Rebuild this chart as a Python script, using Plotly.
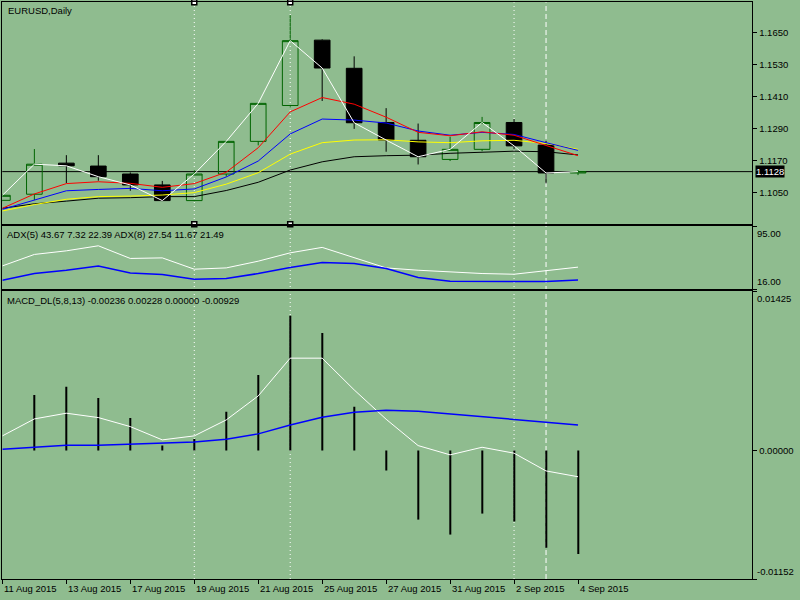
import plotly.graph_objects as go

# EURUSD daily bars
dates = ["11 Aug", "12 Aug", "13 Aug", "14 Aug", "17 Aug", "18 Aug", "19 Aug",
         "20 Aug", "21 Aug", "24 Aug", "25 Aug", "26 Aug", "27 Aug", "28 Aug",
         "31 Aug", "1 Sep", "2 Sep", "3 Sep", "4 Sep"]
opens = [1.1020, 1.1043, 1.1160, 1.1149, 1.1119, 1.1078, 1.1019, 1.1119, 1.1242, 1.1377,
         1.1623, 1.1517, 1.1313, 1.1246, 1.1174, 1.1212, 1.1313, 1.1228, 1.1123]
highs = [1.1042, 1.1213, 1.1190, 1.1190, 1.1125, 1.1093, 1.1134, 1.1242, 1.1385, 1.1717,
         1.1626, 1.1562, 1.1367, 1.1309, 1.1259, 1.1334, 1.1326, 1.1244, 1.1134]
lows = [1.1017, 1.1021, 1.1085, 1.1094, 1.1056, 1.1017, 1.1017, 1.1109, 1.1227, 1.1370,
        1.1394, 1.1289, 1.1203, 1.1155, 1.1168, 1.1205, 1.1213, 1.1084, 1.1115]
closes = [1.1039, 1.1156, 1.1150, 1.1109, 1.1078, 1.1019, 1.1119, 1.1242, 1.1385, 1.1621,
          1.1518, 1.1312, 1.1247, 1.1184, 1.1212, 1.1313, 1.1225, 1.1123, 1.1128]

# moving averages
ma_red = [1.0990, 1.1044, 1.1083, 1.1090, 1.1084, 1.1069, 1.1083, 1.1126, 1.1218, 1.1353,
          1.1407, 1.1382, 1.1333, 1.1276, 1.1263, 1.1278, 1.1265, 1.1228, 1.1188]
ma_blue = [1.0986, 1.1020, 1.1056, 1.1061, 1.1065, 1.1056, 1.1063, 1.1108, 1.1168, 1.1270,
           1.1326, 1.1322, 1.1311, 1.1281, 1.1265, 1.1276, 1.1268, 1.1237, 1.1208]
ma_yellow = [1.0980, 1.1004, 1.1024, 1.1034, 1.1036, 1.1040, 1.1049, 1.1081, 1.1124, 1.1194,
             1.1237, 1.1247, 1.1248, 1.1240, 1.1237, 1.1244, 1.1246, 1.1234, 1.1212]
ma_black = [1.0990, 1.1007, 1.1017, 1.1028, 1.1030, 1.1034, 1.1034, 1.1057, 1.1088, 1.1134,
            1.1165, 1.1184, 1.1188, 1.1190, 1.1197, 1.1200, 1.1205, 1.1203, 1.1191]

# ADX
adx5 = [45.2, 59.5, 64.0, 70.3, 54.5, 55.2, 41.1, 42.7, 51.1, 61.5,
        68.3, 55.2, 42.7, 39.8, 37.7, 35.7, 34.8, 38.9, 43.67]
adx8 = [27.3, 35.7, 39.8, 45.2, 36.4, 34.4, 28.5, 29.4, 35.7, 43.2,
        49.5, 48.2, 42.0, 30.7, 26.0, 25.6, 25.6, 25.6, 27.54]

# MACD_DL (first histogram bar hidden behind the frame)
macd_hist = [None, 0.00497, 0.00569, 0.0047, 0.00291, 0.00043, 0.00103, 0.00345, 0.00676, 0.01205,
             0.01052, 0.0039, -0.00181, -0.0062, -0.00754, -0.00566, -0.00638, -0.00871, -0.00929]
macd_main = [0.0013, 0.00282, 0.00333, 0.00294, 0.00213, 0.00094, 0.0013, 0.00273, 0.00488, 0.00826,
             0.00826, 0.00542, 0.00279, 0.00043, -0.0004, 0.00028, -0.00025, -0.00184, -0.00236]
macd_signal = [0.0001, 0.00028, 0.00046, 0.00046, 0.00055, 0.00064, 0.00076, 0.001, 0.00148, 0.00228,
               0.00297, 0.00342, 0.0036, 0.00351, 0.00327, 0.00306, 0.00282, 0.00253, 0.00228]

price_ticks = [1.1050, 1.1170, 1.1290, 1.1410, 1.1530, 1.1650]
price_range = [1.09298, 1.17654]
adx_range = [16.0, 95.0]
macd_range = [-0.01152, 0.01425]

label_dates = ["11 Aug", "13 Aug", "17 Aug", "19 Aug", "21 Aug", "25 Aug",
               "27 Aug", "31 Aug", "2 Sep", "4 Sep"]
dotted_dates = ["19 Aug", "24 Aug", "2 Sep"]
dashed_dates = ["3 Sep"]
handle_dates = ["19 Aug", "24 Aug"]

BG = "#8FBC8F"
GREEN = "#006400"
FONT = "Liberation Sans"
idx = list(range(len(dates)))
pos = {d: i for i, d in enumerate(dates)}

fig = go.Figure()

fig.add_trace(go.Candlestick(
    x=idx, open=opens, high=highs, low=lows, close=closes,
    increasing=dict(line=dict(color=GREEN, width=1), fillcolor="rgba(0,0,0,0)"),
    decreasing=dict(line=dict(color="black", width=1), fillcolor="black"),
    hoverinfo="skip", xaxis="x", yaxis="y"))

for vals, col in [(ma_black, "black"), (ma_yellow, "#FFFF00"), (ma_blue, "#0000FF"),
                  (ma_red, "#FF0000"), (closes, "white")]:
    fig.add_trace(go.Scatter(x=idx, y=vals, mode="lines", line=dict(color=col, width=1),
                             xaxis="x", yaxis="y"))

fig.add_trace(go.Scatter(
    x=[pos[d] for d in handle_dates] * 2,
    y=[price_range[1]] * len(handle_dates) + [price_range[0]] * len(handle_dates),
    mode="markers", cliponaxis=False,
    marker=dict(symbol="square", size=5, color="white", line=dict(color="black", width=1.5)),
    xaxis="x", yaxis="y"))

fig.add_trace(go.Scatter(x=idx, y=adx5, mode="lines", line=dict(color="white", width=1),
                         xaxis="x2", yaxis="y2"))
fig.add_trace(go.Scatter(x=idx, y=adx8, mode="lines", line=dict(color="#0000FF", width=1.5),
                         xaxis="x2", yaxis="y2"))

fig.add_trace(go.Bar(x=idx, y=macd_hist, width=0.045, marker=dict(color="black", line=dict(width=0)),
                     xaxis="x3", yaxis="y3"))
fig.add_trace(go.Scatter(x=idx, y=macd_main, mode="lines", line=dict(color="white", width=1),
                         xaxis="x3", yaxis="y3"))
fig.add_trace(go.Scatter(x=idx, y=macd_signal, mode="lines", line=dict(color="#0000FF", width=1.5),
                         xaxis="x3", yaxis="y3"))

xdom = [2.3 / 800, 752.3 / 800]
xr = [-0.003, 23.45]
dom_main = [1 - 224.3 / 600, 1 - 2.3 / 600]
dom_adx = [1 - 289.3 / 600, 1 - 226 / 600]
dom_macd = [1 - 579 / 600, 1 - 291.3 / 600]

xbase = dict(domain=xdom, range=xr, showgrid=False, zeroline=False, showticklabels=False,
             showline=True, mirror=True, linecolor="black", linewidth=1, fixedrange=True,
             automargin=False)
ybase = dict(side="right", showgrid=False, zeroline=False, showline=True, mirror=True,
             linecolor="black", linewidth=1, ticks="outside", ticklen=4, tickcolor="black",
             automargin=False, tickfont=dict(family=FONT, size=9.5, color="black"))

fig.update_layout(
    template="none",
    width=800, height=600,
    margin=dict(l=0, r=0, t=0, b=0, pad=0),
    paper_bgcolor=BG, plot_bgcolor=BG,
    showlegend=False,
    xaxis=dict(xbase, anchor="y", rangeslider=dict(visible=False)),
    xaxis2=dict(xbase, anchor="y2", matches="x"),
    xaxis3=dict(xbase, anchor="y3", matches="x", ticks="outside", ticklen=4, tickcolor="black",
                tickvals=[pos[d] for d in label_dates]),
    yaxis=dict(ybase, domain=dom_main, range=price_range, anchor="x",
               tickvals=price_ticks, ticktext=["%.4f" % v for v in price_ticks]),
    yaxis2=dict(ybase, domain=dom_adx, range=adx_range, anchor="x2",
                tickvals=adx_range, ticktext=["", ""]),
    yaxis3=dict(ybase, domain=dom_macd, range=macd_range, anchor="x3",
                tickvals=[macd_range[0], 0, macd_range[1]], ticktext=["", "0.00000", ""]),
)

shapes = [dict(type="line", xref="paper", yref="y", x0=xdom[0], x1=xdom[1], layer="below",
               y0=closes[-1], y1=closes[-1], line=dict(color="black", width=1))]
for d in dotted_dates:
    shapes.append(dict(type="line", xref="x", yref="paper", x0=pos[d], x1=pos[d], layer="below",
                       y0=dom_macd[0], y1=dom_main[1], line=dict(color="white", width=1, dash="1px,3px")))
for d in dashed_dates:
    shapes.append(dict(type="line", xref="x", yref="paper", x0=pos[d], x1=pos[d], layer="below",
                       y0=dom_macd[0], y1=dom_main[1], line=dict(color="white", width=1, dash="5px,3px")))
fig.update_layout(shapes=shapes)

tf = dict(family=FONT, size=9.5, color="black")
ann = [
    dict(text="EURUSD,Daily", x=6 / 800, y=1 - 10 / 600, xref="paper", yref="paper",
         xanchor="left", yanchor="middle", showarrow=False, font=tf),
    dict(text="ADX(5) %.2f 7.32 22.39 ADX(8) %.2f 11.67 21.49" % (adx5[-1], adx8[-1]),
         x=5 / 800, y=1 - 235 / 600, xref="paper", yref="paper",
         xanchor="left", yanchor="middle", showarrow=False, font=tf),
    dict(text="MACD_DL(5,8,13) %.5f %.5f 0.00000 %.5f" % (macd_main[-1], macd_signal[-1], macd_hist[-1]),
         x=5 / 800, y=1 - 300 / 600, xref="paper", yref="paper",
         xanchor="left", yanchor="middle", showarrow=False, font=tf),
    dict(text="%.2f" % adx_range[1], x=755 / 800, y=dom_adx[1], xref="paper", yref="paper",
         xanchor="left", yanchor="top", showarrow=False, font=tf),
    dict(text="%.2f" % adx_range[0], x=755 / 800, y=dom_adx[0], xref="paper", yref="paper",
         xanchor="left", yanchor="bottom", showarrow=False, font=tf),
    dict(text="%.5f" % macd_range[1], x=755 / 800, y=dom_macd[1], xref="paper", yref="paper",
         xanchor="left", yanchor="top", showarrow=False, font=tf),
    dict(text="%.5f" % macd_range[0], x=755 / 800, y=dom_macd[0], xref="paper", yref="paper",
         xanchor="left", yanchor="bottom", showarrow=False, font=tf),
    dict(text="%.4f" % closes[-1], x=755 / 800, y=closes[-1], xref="paper", yref="y",
         xanchor="left", yanchor="middle", showarrow=False, bgcolor="black", borderpad=0,
         font=dict(family=FONT, size=9.5, color="white")),
]
for d in label_dates:
    ann.append(dict(text=d + " 2015", x=pos[d], y=1 - 581 / 600, xref="x3", yref="paper",
                    xanchor="left", yanchor="top", showarrow=False, font=tf))
fig.update_layout(annotations=ann)

fig.write_html("out.html", config={"displayModeBar": False},
               post_script="document.body.style.margin='0';document.body.style.overflow='hidden';")
